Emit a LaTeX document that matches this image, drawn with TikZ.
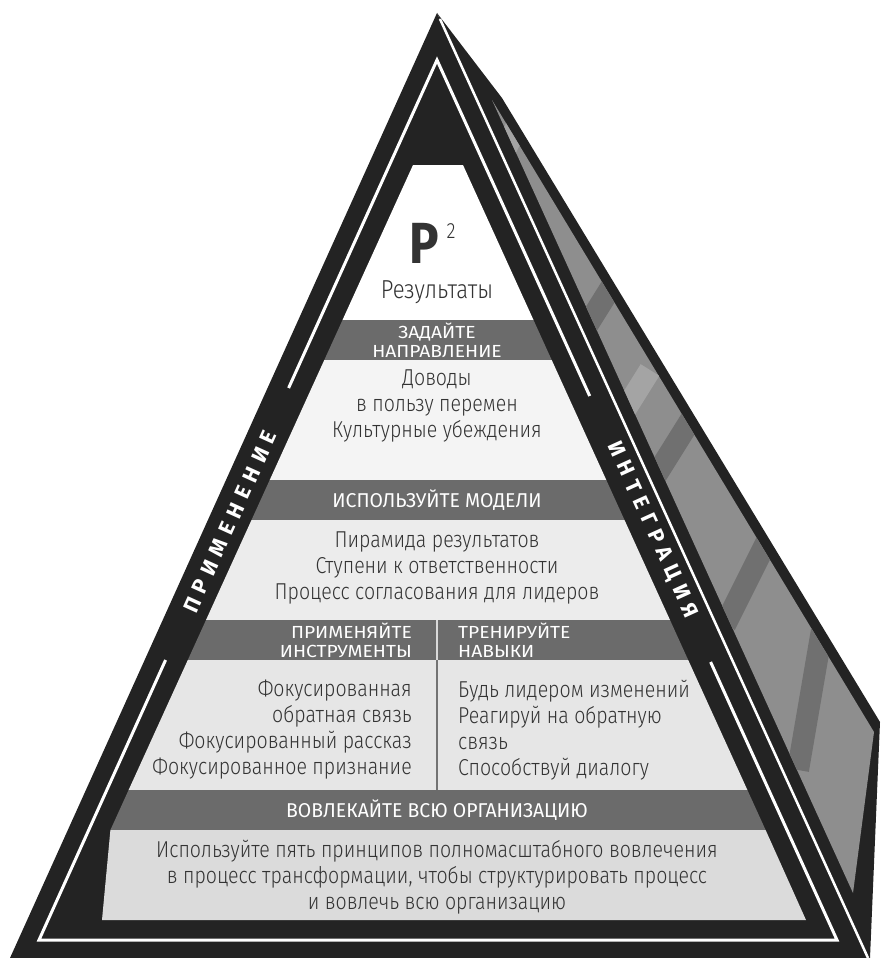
\documentclass[tikz,border=0pt]{standalone}
\usepackage{fontspec}
\IfFontExistsTF{Fira Sans Light}{%
  \setmainfont{Fira Sans Light}[BoldFont={Fira Sans}]
  \newfontfamily\bodyfont{Fira Sans Light}[FakeStretch=0.85]
}{%
  \setmainfont{Fira Sans}
  \newfontfamily\bodyfont{Fira Sans}[FakeStretch=0.84]
}
\newfontfamily\headfont{Fira Sans}[FakeStretch=0.97]
\newfontfamily\headwide{Fira Sans}[FakeStretch=1.1]
\newfontfamily\bigfont{Fira Sans}[FakeStretch=0.85]
\newfontfamily\sidefont{Fira Sans}[LetterSpace=32]
\definecolor{frame}{HTML}{232323}
\definecolor{bar}{HTML}{6B6B6B}
\definecolor{txt}{HTML}{333333}
\definecolor{face}{HTML}{8E8E8E}
\definecolor{facedark}{HTML}{707070}
\definecolor{facelight}{HTML}{A4A4A4}
\definecolor{zoneA}{HTML}{F4F4F4}
\definecolor{zoneB}{HTML}{ECECEC}
\definecolor{zoneC}{HTML}{E6E6E6}
\definecolor{zoneD}{HTML}{DBDBDB}
\tikzset{
  head/.style={text=white, font=\headfont\fontsize{20}{17.5}\selectfont, align=center, inner sep=0pt},
  headtwo/.style={text=white, font=\headwide\fontsize{17.5}{19}\selectfont, align=center, inner sep=0pt},
  body/.style={text=txt, font=\bodyfont\fontsize{23}{26}\selectfont, align=center, inner sep=0pt},
  sidelbl/.style={text=white, font=\sidefont\bfseries\fontsize{21.5}{21.5}\selectfont, inner sep=0pt},
  whiteline/.style={draw=white, line width=3pt},
  stripe/.style={line width=22pt},
}
\begin{document}
\begin{tikzpicture}[x=1pt,y=-1pt]
\useasboundingbox (0,0) rectangle (883,958);
% side face
\fill[frame] (437,13) -- (502,98) -- (880,722) -- (870,958) -- (866,958) -- cycle;
\begin{scope}
  \clip (492,100) -- (874,732) -- (853,893) -- cycle;
  \fill[face] (480,90) rectangle (890,900);
  \draw[facelight, stripe] (520,120) -- (480,200);
  \draw[facedark, stripe] (625,265) -- (575,345);
  \draw[facelight, stripe] (650,370) -- (600,450);
  \draw[facedark, stripe] (700,405) -- (650,485);
  \draw[facedark, stripe] (770,535) -- (725,625);
  \draw[facedark, stripe] (822,630) -- (798,770);
\end{scope}
% front face
\fill[frame] (437,13) -- (868,958) -- (10,958) -- cycle;
\draw[draw=white, line width=2.5pt] (440,19) -- (868,958);
% content zones
\fill[white] (413,165) -- (463,165) -- (533.5,320) -- (342.5,320) -- cycle;
\fill[bar] (342.5,320) -- (533.5,320) -- (551.7,360) -- (324.3,360) -- cycle;
\fill[zoneA] (324.3,360) -- (551.7,360) -- (606.3,480) -- (269.7,480) -- cycle;
\fill[bar] (269.7,480) -- (606.3,480) -- (624.5,520) -- (251.5,520) -- cycle;
\fill[zoneB] (251.5,520) -- (624.5,520) -- (670,620) -- (206,620) -- cycle;
\fill[bar] (206,620) -- (670,620) -- (688.2,660) -- (187.8,660) -- cycle;
\fill[zoneC] (187.8,660) -- (688.2,660) -- (747.4,790) -- (128.6,790) -- cycle;
\fill[bar] (128.6,790) -- (747.4,790) -- (765.6,830) -- (110.4,830) -- cycle;
\fill[zoneD] (110.4,830) -- (765.6,830) -- (806,920) -- (102,920) -- cycle;
% column separator
\draw[draw=white!85!black, line width=2.5pt] (437,620) -- (437,660);
\draw[draw=black!55, line width=1.8pt] (437,660) -- (437,790);
% inner white frame with gaps for the labels
\draw[whiteline, line join=miter] (288.6,388) -- (437,60) -- (589.7,396);
\draw[whiteline, line join=miter] (165.6,660) -- (39,940) -- (837,940) -- (710.6,662);
% side labels
\node[sidelbl, rotate=65.66] (lapp) at (230,522) {ПРИМЕНЕНИЕ};
\node[sidelbl, rotate=-65.56] (lint) at (652,530) {ИНТЕГРАЦИЯ};
% top
\node[text=txt, font=\bigfont\bfseries\fontsize{58}{58}\selectfont, inner sep=0pt] (pbig) at (424,243) {Р};
\node[text=txt, font=\bodyfont\fontsize{22}{22}\selectfont, inner sep=0pt] (psq) at (451,231) {2};
\node[text=txt, font=\bodyfont\fontsize{26}{26}\selectfont, inner sep=0pt, anchor=base] (res) at (437,298) {Результаты};
% headings
\node[headtwo] (h1) at (437,340) {ЗАДАЙТЕ\\НАПРАВЛЕНИЕ};
\node[head] (h2) at (437,500) {ИСПОЛЬЗУЙТЕ МОДЕЛИ};
\node[headtwo, anchor=east, align=right] (h3) at (412,640.5) {ПРИМЕНЯЙТЕ\\ИНСТРУМЕНТЫ};
\node[headtwo, anchor=west, align=left] (h4) at (458,640.5) {ТРЕНИРУЙТЕ\\НАВЫКИ};
\node[head] (h5) at (437,810) {ВОВЛЕКАЙТЕ ВСЮ ОРГАНИЗАЦИЮ};
% body texts
\node[body] (b1) at (437,406) {Доводы\\в пользу перемен\\Культурные убеждения};
\node[body] (b2) at (437,568) {Пирамида результатов\\Ступени к ответственности\\Процесс согласования для лидеров};
\node[body, anchor=east, align=right] (b3) at (412,730) {Фокусированная\\обратная связь\\Фокусированный рассказ\\Фокусированное признание};
\node[body, anchor=west, align=left] (b4) at (458,730) {Будь лидером изменений\\Реагируй на обратную\\связь\\Способствуй диалогу};
\node[body] (b5) at (437,877) {Используйте пять принципов полномасштабного вовлечения\\в процесс трансформации, чтобы структурировать процесс\\и вовлечь всю организацию};
\end{tikzpicture}
\end{document}
